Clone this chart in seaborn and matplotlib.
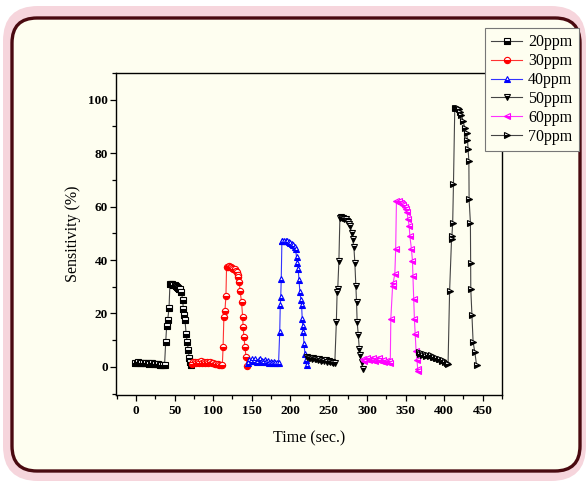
import matplotlib
matplotlib.use("Agg")
import matplotlib.pyplot as plt
import seaborn as sns
from matplotlib.patches import FancyBboxPatch
from matplotlib.ticker import MultipleLocator

# ---------------- data ----------------
labels = ["20ppm", "30ppm", "40ppm", "50ppm", "60ppm", "70ppm"]
colors = ["#000000", "#ff0000", "#0000ff", "#000000", "#ff00ff", "#000000"]
line_colors = ["#444444", "#ff3333", "#3333ff", "#444444", "#ff33ff", "#444444"]
markers = ["s", "o", "^", "v", "<", ">"]

t_20 = [-1, 1, 3, 5, 7, 9, 11, 13, 15, 17, 19, 21, 23, 25, 27, 29, 31, 33, 35, 37,
        38.5, 39.8, 41, 42.8, 44, 45.5, 47, 48.5, 50, 51.5, 53, 54.5, 56, 57, 59,
        60.5, 61.4, 62.5, 63.6, 65, 66.5, 67.9, 69, 70, 71]
v_20 = [1.6, 1.5, 1.7, 1.4, 1.5, 1.6, 1.3, 1.5, 1.4, 1.2, 1.5, 1.3, 1.1, 1.2, 1.0, 1.1, 0.9, 0.8, 0.7, 0.6,
        9.3, 15.5, 17.4, 21.9, 31.0, 31.2, 31.0, 30.8, 30.5, 30.2, 29.8, 29.5, 29.2, 29.0, 28.0,
        25.0, 21.7, 19.5, 17.4, 12.4, 9.3, 6.2, 3.3, 1.8, 0.9]

t_30 = [72, 74, 76, 78, 80, 82, 84, 86, 88, 90, 92, 94, 96, 98, 100, 102, 104, 106, 108, 110, 112,
        113, 114, 115.4, 116.7, 117.5, 119, 120.5, 122, 123.5, 125, 126.5, 128,
        129.5, 130.6, 131.7, 132.8, 134, 135, 137, 138.4, 139, 140, 141.4, 142.7, 144.4]
v_30 = [1.2, 1.8, 2.0, 1.5, 1.9, 1.6, 2.1, 1.4, 1.8, 1.6, 2.0, 1.5, 1.7, 1.3, 1.4, 1.1, 1.0, 1.2, 0.8, 0.9, 0.7,
        7.5, 18.6, 21.0, 26.7, 37.3, 37.5, 37.6, 37.4, 37.3, 37.0, 36.8, 36.5,
        36.0, 35.4, 34.5, 33.5, 31.7, 28.5, 24.2, 18.6, 15.0, 11.2, 7.5, 3.7, 0.4]

t_40 = [145, 147, 149, 151, 153, 155, 157, 159, 161, 163, 165, 167, 169, 171, 173, 175, 177, 179, 181, 183, 185,
        186.5, 187.2, 187.8, 188.5, 189.3, 190, 192, 194, 196, 198, 200, 202, 204, 206,
        207, 208.4, 209.5, 210.5, 211.5, 212.7, 214, 214.9, 215.7, 216.3, 217, 218, 219.2, 220.3, 221.4]
v_40 = [1.5, 2.5, 2.2, 3.0, 2.4, 2.8, 2.0, 2.6, 2.9, 2.3, 2.0, 2.5, 1.8, 2.2, 1.6, 2.0, 1.5, 1.8, 1.4, 1.6, 1.5,
        13.0, 23.0, 26.0, 33.0, 47.0, 47.2, 47.3, 47.1, 47.0, 46.8, 46.5, 46.0, 45.5, 44.8,
        44.0, 41.0, 39.0, 36.6, 32.6, 28.0, 25.0, 23.0, 18.0, 15.5, 13.0, 8.7, 5.0, 2.5, 0.6]

t_50 = [222, 224, 226, 228, 230, 232, 234, 236, 238, 240, 242, 244, 246, 248, 250, 252, 254, 256, 258,
        260, 261, 261.8, 263.3, 264.6, 266, 267.5, 269, 270.5, 272, 273.5, 275, 276.5,
        277.6, 279.8, 281, 282.8, 284, 285.3, 286.2, 287, 288.5, 289.8, 290.5, 292.7, 294]
v_50 = [3.8, 3.2, 3.5, 2.9, 3.3, 2.8, 3.0, 2.6, 2.9, 2.4, 2.7, 2.2, 2.5, 2.0, 2.3, 1.8, 2.0, 1.6, 1.5,
        16.8, 28.0, 29.2, 39.7, 55.9, 56.0, 55.8, 55.9, 55.5, 55.2, 54.8, 54.3, 53.5,
        52.8, 50.3, 48.0, 44.7, 39.0, 30.4, 24.2, 16.8, 11.8, 6.8, 4.3, 1.9, -0.6]

t_60 = [294, 296, 298, 300, 302, 304, 306, 308, 310, 312, 314, 316, 318, 320, 322, 324, 326, 328, 330,
        330.7, 333, 333.8, 335.9, 337, 338, 339.5, 341, 342.5, 344, 345.5, 347, 348.5, 350,
        351.8, 353, 354.5, 355.4, 357.5, 358.8, 359.4, 360.4, 361.3, 362.3, 363.5, 364.7, 365.5, 366]
v_60 = [3.0, 2.2, 2.8, 3.4, 2.5, 3.1, 2.7, 3.3, 2.4, 2.9, 2.6, 3.2, 2.3, 2.7, 2.0, 2.4, 1.8, 2.1, 1.6,
        18.0, 30.4, 31.6, 34.8, 44.0, 62.1, 61.8, 62.0, 61.5, 61.2, 60.8, 60.5, 60.0, 59.0,
        57.8, 55.4, 52.8, 49.0, 44.0, 39.7, 34.0, 25.5, 18.0, 12.5, 6.0, 2.5, -0.6, -1.5]

t_70 = [367, 369, 371, 373, 375, 377, 379, 381, 383, 385, 387, 389, 391, 393, 395, 397, 399, 401, 403, 405,
        407, 409.5, 410, 411, 412, 413.7, 415, 416.5, 418, 419.5, 421,
        422.4, 424.5, 426.6, 429, 430.2, 431, 432, 432.3, 434, 434.3, 434.5, 436, 437.5, 439.7, 442]
v_70 = [5.6, 4.8, 5.2, 4.5, 5.0, 4.2, 4.6, 4.0, 4.3, 3.6, 3.9, 3.2, 3.5, 2.8, 3.0, 2.4, 2.5, 1.8, 1.5, 1.2,
        28.5, 47.8, 49.0, 54.0, 68.3, 96.8, 97.0, 96.8, 97.0, 96.5, 95.5,
        94.4, 92.0, 89.5, 87.6, 85.0, 81.4, 77.0, 62.7, 54.0, 39.0, 29.0, 19.3, 9.3, 5.6, 0.6]

ts = [t_20, t_30, t_40, t_50, t_60, t_70]
vs = [v_20, v_30, v_40, v_50, v_60, v_70]

x_ticks = [0, 50, 100, 150, 200, 250, 300, 350, 400, 450]
y_ticks = [0, 20, 40, 60, 80, 100]

# ---------------- figure ----------------
W, H = 587, 483
fig = plt.figure(figsize=(W / 100, H / 100), dpi=100)
fig.patch.set_facecolor("white")

outer = FancyBboxPatch((0.03, 0.02), 5.83, 4.75,
                       boxstyle="round,pad=0,rounding_size=0.35",
                       transform=fig.dpi_scale_trans,
                       facecolor="#f6d5dc", edgecolor="none", zorder=-10)
fig.add_artist(outer)
inner = FancyBboxPatch((0.12, 0.12), 5.68, 4.53,
                       boxstyle="round,pad=0,rounding_size=0.25",
                       transform=fig.dpi_scale_trans,
                       facecolor="#fefef0", edgecolor="#4a0a10", linewidth=2.4, zorder=-9)
fig.add_artist(inner)

ax = fig.add_axes([116 / W, 1 - 395 / H, 386 / W, 322 / H])
ax.patch.set_alpha(0)

for t, v, lab, c, lc, m in zip(ts, vs, labels, colors, line_colors, markers):
    sns.lineplot(x=t, y=v, ax=ax, color=lc, linewidth=0.8, label=lab,
                 marker=m, markersize=4.5, markeredgecolor=c, markerfacecolor=c,
                 markerfacecoloralt="white", fillstyle="bottom", markeredgewidth=0.8,
                 sort=False, estimator=None)

ax.set_xlim(-26, 475)
ax.set_ylim(-10.5, 110)
ax.xaxis.set_major_locator(MultipleLocator(50))
ax.xaxis.set_minor_locator(MultipleLocator(25))
ax.yaxis.set_major_locator(MultipleLocator(20))
ax.yaxis.set_minor_locator(MultipleLocator(10))
ax.set_xticks(x_ticks)
ax.set_yticks(y_ticks)
ax.tick_params(which="major", direction="out", length=4, width=0.9, top=False, right=False)
ax.tick_params(which="minor", direction="out", length=3, width=0.9, top=False, right=False)
ax.tick_params(axis="x", which="major", pad=3.5)
ax.tick_params(axis="y", which="major", pad=2)
for s in ax.spines.values():
    s.set_linewidth(1.0)
    s.set_color("black")

for lbl in ax.get_xticklabels() + ax.get_yticklabels():
    lbl.set_fontfamily("Liberation Serif")
    lbl.set_fontweight("bold")
    lbl.set_fontsize(9.5)

ax.set_xlabel("Time (sec.)", fontfamily="Liberation Serif", fontsize=11.5, labelpad=9)
ax.set_ylabel("Sensitivity (%)", fontfamily="Liberation Serif", fontsize=11.5, labelpad=5)

leg = ax.legend(loc="upper left", bbox_to_anchor=(485 / W, 1 - 28 / H),
                bbox_transform=fig.transFigure, borderaxespad=0, frameon=True,
                fancybox=False, prop=dict(family="Liberation Serif", size=11.5),
                handlelength=1.9, handletextpad=0.4, labelspacing=0.18,
                borderpad=0.4, framealpha=1)
leg.get_frame().set_edgecolor("#777777")
leg.get_frame().set_facecolor("#fefef0")
leg.get_frame().set_linewidth(0.8)

fig.savefig("out.png", dpi=100)
